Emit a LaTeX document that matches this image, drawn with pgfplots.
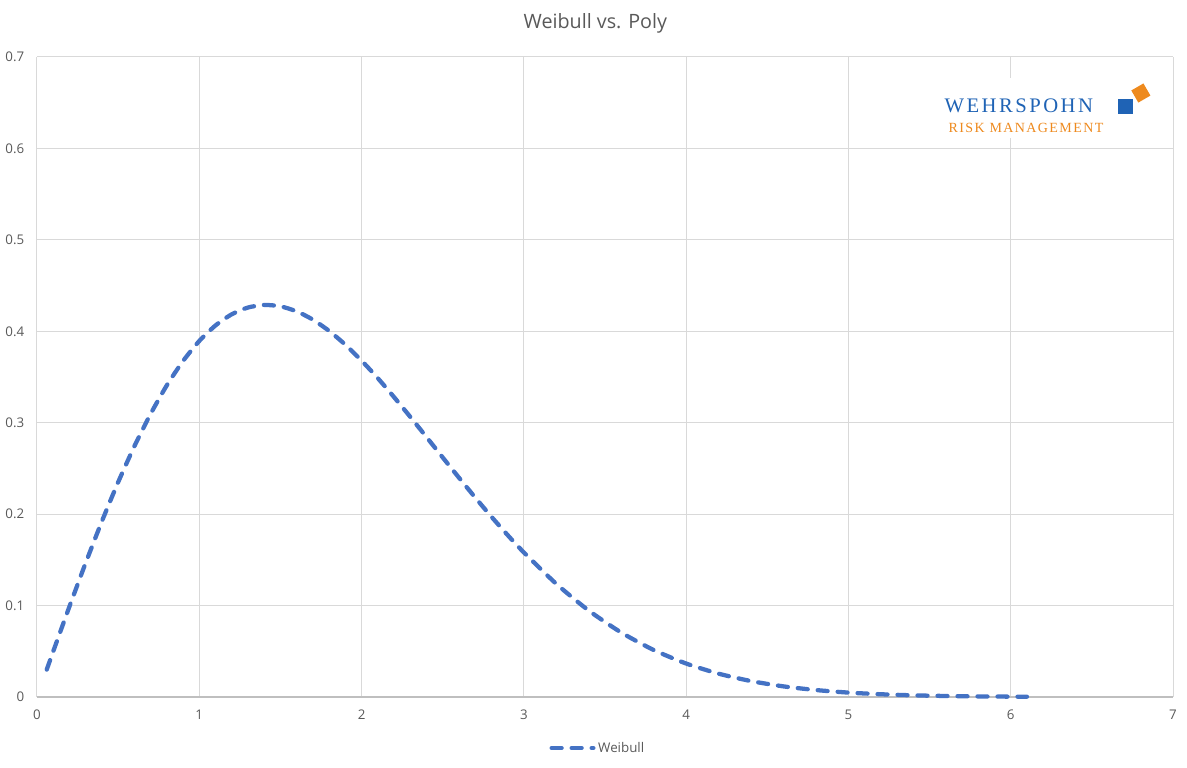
\documentclass[border=0pt]{standalone}
\usepackage{pgfplots}
\pgfplotsset{compat=1.18}
\usetikzlibrary{calc}
\usepackage{fontspec}
\setmainfont{Open Sans}
\newfontfamily\logofont[LetterSpace=12]{Liberation Serif}
\newfontfamily\logofontb[LetterSpace=10]{Liberation Serif}
\definecolor{serblue}{HTML}{4472C4}
\definecolor{gridc}{HTML}{D9D9D9}
\definecolor{axc}{HTML}{BFBFBF}
\definecolor{txt}{HTML}{595959}
\definecolor{logoblue}{HTML}{1F63B5}
\definecolor{logoorange}{HTML}{EE8A1E}
\begin{document}
\begin{tikzpicture}
\begin{axis}[
  name=a,
  scale only axis,
  width=852pt, height=480pt,
  xmin=0, xmax=7, ymin=0, ymax=0.7,
  xtick={0,1,...,7},
  ytick={0,0.1,...,0.7},
  yticklabel style={/pgf/number format/fixed},
  /pgf/number format/assume math mode=true,
  grid=major,
  major grid style={gridc, line width=0.75pt},
  axis line style={draw=none},
  tick style={draw=none},
  ticklabel style={font=\fontsize{10}{12}\selectfont, text=txt},
  xticklabel style={yshift=-6pt},
  yticklabel style={xshift=-6pt},
  title={Weibull vs. Poly},
  title style={font=\fontsize{14.8}{17}\selectfont, text=txt, at={(rel axis cs:0.4915,1)}, anchor=center, yshift=19pt},
  legend style={draw=none, fill=none, at={(rel axis cs:0.494,-0.0797)}, anchor=center, font=\fontsize{10}{12}\selectfont, text=txt},
  legend cell align=left,
  legend image code/.code={\draw[#1] (0cm,0cm) -- (1.1cm,0cm);},
  clip=false,
]
\draw[axc, line width=1pt] (rel axis cs:0,0) -- (rel axis cs:1,0);
% logo
\fill[white] (axis cs:5.56,0.6114) rectangle (axis cs:6.92,0.677);
\node[font=\logofont\fontsize{15.5}{17}\selectfont, text=logoblue] at (axis cs:6.05,0.6464) {WEHRSPOHN};
\node[font=\logofontb\fontsize{10.5}{12}\selectfont, text=logoorange] at (axis cs:6.094,0.6223) {RISK MANAGEMENT};
\fill[logoblue] (axis cs:6.707,0.6458) ++(-5.6pt,-5.6pt) rectangle ++(11.25pt,11.25pt);
\node[fill=logoorange, minimum size=10.5pt, inner sep=0pt, rotate=30] at (axis cs:6.802,0.6606) {};
\addplot[serblue, line width=3.2pt, line cap=round, dash pattern=on 7.5pt off 7.5pt, smooth, tension=0.4] coordinates {
(0.06,0.0300)(0.1,0.0499)(0.2,0.0990)(0.3,0.1467)(0.4,0.1922)(0.5,0.2349)
(0.6,0.2742)(0.7,0.3096)(0.8,0.3409)(0.9,0.3675)(1.0,0.3894)(1.1,0.4064)
(1.2,0.4186)(1.3,0.4260)(1.4,0.4288)(1.5,0.4273)(1.6,0.4218)(1.7,0.4127)
(1.8,0.4004)(1.9,0.3853)(2.0,0.3679)(2.1,0.3487)(2.2,0.3280)(2.3,0.3064)
(2.4,0.2843)(2.5,0.2620)(2.6,0.2399)(2.7,0.2182)(2.8,0.1972)(2.9,0.1771)
(3.0,0.1581)(3.2,0.1237)(3.4,0.0945)(3.6,0.0705)(3.8,0.0514)(4.0,0.0366)
(4.2,0.0255)(4.4,0.0174)(4.6,0.0116)(4.8,0.0076)(5.0,0.0048)(5.2,0.0030)
(5.4,0.0018)(5.6,0.0011)(5.8,0.00064)(6.0,0.00037)(6.1,0.00028)
};
\addlegendentry{Weibull}
\coordinate (bl) at (rel axis cs:0,0);
\coordinate (tr) at (rel axis cs:1,1);
\end{axis}
\pgfresetboundingbox
\path (bl) ++(-27.75pt,-53.25pt) rectangle ($(tr)+(10.5pt,42.75pt)$);
\end{tikzpicture}
\end{document}
